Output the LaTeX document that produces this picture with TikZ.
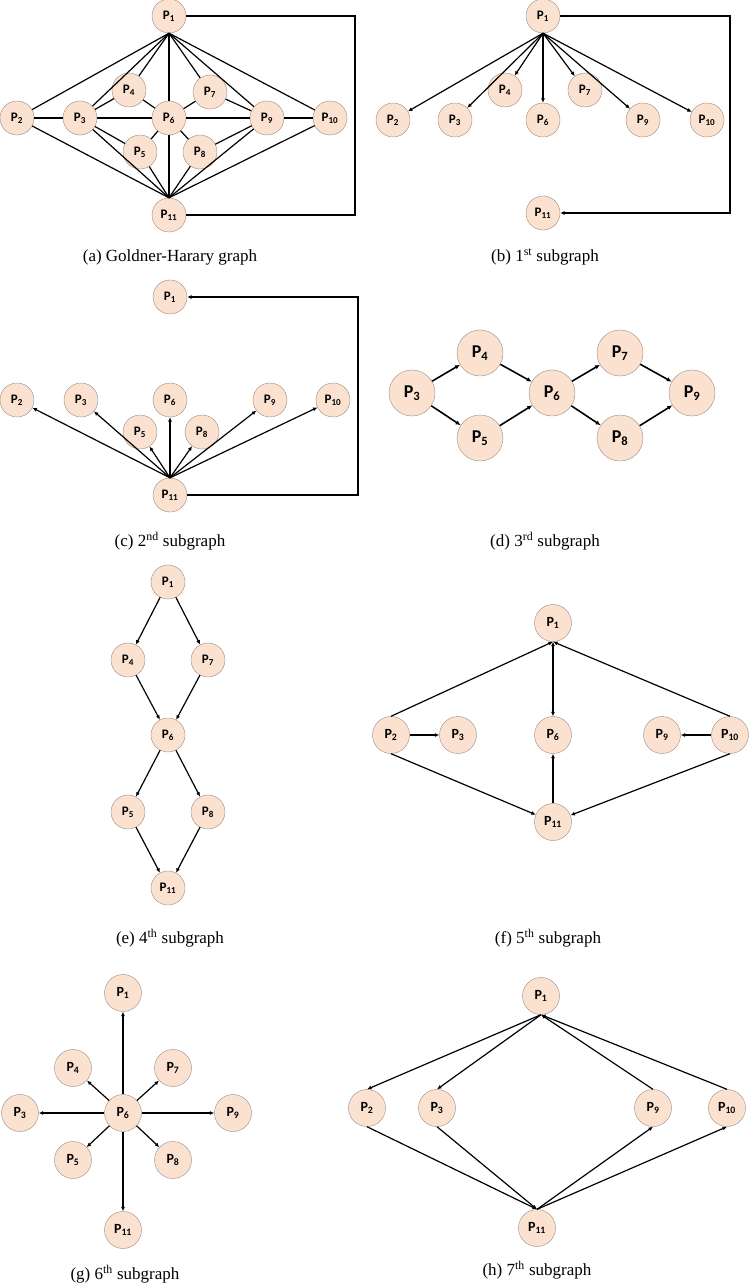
\documentclass[tikz,border=0pt]{standalone}
\usepackage{fontspec}
\setmainfont{Liberation Serif}
\newfontfamily\nodefont{Carlito}
\usetikzlibrary{arrows.meta}
\definecolor{peach}{HTML}{FBE2D0}
\definecolor{rimc}{HTML}{9A8A80}
\tikzset{
 pn/.style={circle,fill=peach,draw=rimc,line width=0.4pt,minimum size=34pt,inner sep=0pt,font=\nodefont\bfseries\fontsize{13}{13}\selectfont},
 pbig/.style={pn,minimum size=46pt,font=\nodefont\bfseries\fontsize{18}{18}\selectfont},
 pmid/.style={pn,minimum size=37pt,font=\nodefont\bfseries\fontsize{14}{14}\selectfont},
 ed/.style={line width=1.2pt},
 ar/.style={ed,-{Latex[length=4.5pt,width=4pt]}},
 arb/.style={line width=1.6pt,-{Latex[length=5pt,width=4.5pt]}},
 captxt/.style={font=\fontsize{17}{17}\selectfont}
}
\begin{document}
\begin{tikzpicture}[x=1pt,y=-1pt]
\useasboundingbox (0,0) rectangle (749,1287);
% (a)
\node[pn] (a1) at (169,16) {P\textsubscript{1}};
\node[pn] (a2) at (17,118) {P\textsubscript{2}};
\node[pn] (a3) at (80,118) {P\textsubscript{3}};
\node[pn] (a4) at (129,90) {P\textsubscript{4}};
\node[pn] (a6) at (169,118) {P\textsubscript{6}};
\node[pn] (a7) at (210,92) {P\textsubscript{7}};
\node[pn] (a5) at (140,152) {P\textsubscript{5}};
\node[pn] (a8) at (200,152) {P\textsubscript{8}};
\node[pn] (a9) at (267,118) {P\textsubscript{9}};
\node[pn] (a10) at (330,118) {P\textsubscript{10}};
\node[pn] (a11) at (169,215) {P\textsubscript{11}};
\coordinate (aa) at (355,16); \coordinate (ab) at (355,215);
\draw[ed] (a1.east) -- (aa) -- (ab) -- (a11.east);
\foreach \n in {2,3,4,6,7,9,10} \draw[ed] (a1.south) -- (a\n);
\foreach \n in {2,3,5,6,8,9,10} \draw[ed] (a11.north) -- (a\n);
\foreach \u/\v in {2/3,3/6,6/9,9/10,3/4,4/6,6/7,7/9,3/5,5/6,6/8,8/9} \draw[ed] (a\u) -- (a\v);
\node[captxt] (ca) at (170,257) {(a) Goldner-Harary graph};
% (b)
\node[pn] (b1) at (543,16) {P\textsubscript{1}};
\node[pn] (b2) at (393,120) {P\textsubscript{2}};
\node[pn] (b3) at (455,120) {P\textsubscript{3}};
\node[pn] (b4) at (505,90) {P\textsubscript{4}};
\node[pn] (b6) at (543,120) {P\textsubscript{6}};
\node[pn] (b7) at (585,90) {P\textsubscript{7}};
\node[pn] (b9) at (643,120) {P\textsubscript{9}};
\node[pn] (b10) at (707,120) {P\textsubscript{10}};
\node[pn] (b11) at (543,213) {P\textsubscript{11}};
\coordinate (ba) at (730,16); \coordinate (bb) at (730,213);
\draw[ar] (b1.east) -- (ba) -- (bb) -- (b11.east);
\foreach \n in {2,3,4,6,7,9,10} \draw[ar] (b1.south) -- (b\n);
\node[captxt] (cb) at (545,257) {(b) 1\textsuperscript{st} subgraph};
% (c)
\node[pn] (c1) at (170,297) {P\textsubscript{1}};
\node[pn] (c2) at (17,400) {P\textsubscript{2}};
\node[pn] (c3) at (81,400) {P\textsubscript{3}};
\node[pn] (c6) at (170,400) {P\textsubscript{6}};
\node[pn] (c5) at (140,432) {P\textsubscript{5}};
\node[pn] (c8) at (202,432) {P\textsubscript{8}};
\node[pn] (c9) at (270,400) {P\textsubscript{9}};
\node[pn] (c10) at (333,400) {P\textsubscript{10}};
\node[pn] (c11) at (170,495) {P\textsubscript{11}};
\coordinate (ca1) at (358,495); \coordinate (cb1) at (358,297);
\draw[ar] (c11.east) -- (ca1) -- (cb1) -- (c1.east);
\foreach \n in {2,3,5,6,8,9,10} \draw[ar] (c11.north) -- (c\n);
\node[captxt] (cc) at (170,541) {(c) 2\textsuperscript{nd} subgraph};
% (d)
\node[pbig] (d3) at (412,393) {P\textsubscript{3}};
\node[pbig] (d4) at (480,353) {P\textsubscript{4}};
\node[pbig] (d5) at (480,438) {P\textsubscript{5}};
\node[pbig] (d6) at (552,393) {P\textsubscript{6}};
\node[pbig] (d7) at (620,353) {P\textsubscript{7}};
\node[pbig] (d8) at (620,438) {P\textsubscript{8}};
\node[pbig] (d9) at (692,393) {P\textsubscript{9}};
\foreach \u/\v in {3/4,3/5,4/6,5/6,6/7,6/8,7/9,8/9} \draw[arb] (d\u) -- (d\v);
\node[captxt] (cd) at (545,541) {(d) 3\textsuperscript{rd} subgraph};
% (e)
\node[pn] (e1) at (168,582) {P\textsubscript{1}};
\node[pn] (e4) at (128,660) {P\textsubscript{4}};
\node[pn] (e7) at (208,660) {P\textsubscript{7}};
\node[pn] (e6) at (168,735) {P\textsubscript{6}};
\node[pn] (e5) at (128,812) {P\textsubscript{5}};
\node[pn] (e8) at (208,812) {P\textsubscript{8}};
\node[pn] (e11) at (168,888) {P\textsubscript{11}};
\foreach \u/\v in {1/4,1/7,4/6,7/6,6/5,6/8,5/11,8/11} \draw[ar] (e\u) -- (e\v);
\node[captxt] (ce) at (170,938) {(e) 4\textsuperscript{th} subgraph};
% (f)
\node[pmid] (f1) at (553,623) {P\textsubscript{1}};
\node[pmid] (f2) at (391,735) {P\textsubscript{2}};
\node[pmid] (f3) at (458,735) {P\textsubscript{3}};
\node[pmid] (f6) at (553,735) {P\textsubscript{6}};
\node[pmid] (f9) at (662,735) {P\textsubscript{9}};
\node[pmid] (f10) at (730,735) {P\textsubscript{10}};
\node[pmid] (f11) at (553,822) {P\textsubscript{11}};
\draw[ar] (f2.north) -- (f1.south);
\draw[ar] (f10.north) -- (f1.south);
\draw[ed,{Latex[length=4.5pt,width=4pt]}-{Latex[length=4.5pt,width=4pt]}] (f1) -- (f6);
\draw[ar] (f2) -- (f3);
\draw[ar] (f10) -- (f9);
\draw[ar] (f11) -- (f6);
\draw[ar] (f2.south) -- (f11);
\draw[ar] (f10.south) -- (f11);
\node[captxt] (cf) at (548,938) {(f) 5\textsuperscript{th} subgraph};
% (g)
\node[pmid] (g1) at (123,993) {P\textsubscript{1}};
\node[pmid] (g4) at (73,1068) {P\textsubscript{4}};
\node[pmid] (g7) at (173,1068) {P\textsubscript{7}};
\node[pmid] (g3) at (20,1113) {P\textsubscript{3}};
\node[pmid] (g6) at (123,1113) {P\textsubscript{6}};
\node[pmid] (g9) at (233,1113) {P\textsubscript{9}};
\node[pmid] (g5) at (73,1160) {P\textsubscript{5}};
\node[pmid] (g8) at (173,1160) {P\textsubscript{8}};
\node[pmid] (g11) at (123,1230) {P\textsubscript{11}};
\foreach \n in {1,4,7,3,9,5,8,11} \draw[ar] (g6) -- (g\n);
\node[captxt] (cg) at (125,1274) {(g) 6\textsuperscript{th} subgraph};
% (h)
\node[pmid] (h1) at (541,996) {P\textsubscript{1}};
\node[pmid] (h2) at (367,1108) {P\textsubscript{2}};
\node[pmid] (h3) at (437,1108) {P\textsubscript{3}};
\node[pmid] (h9) at (653,1108) {P\textsubscript{9}};
\node[pmid] (h10) at (727,1108) {P\textsubscript{10}};
\node[pmid] (h11) at (537,1228) {P\textsubscript{11}};
\draw[ar] (h1.south) -- (h2.north);
\draw[ar] (h1.south) -- (h3.north);
\draw[ar] (h9.north) -- (h1.south);
\draw[ar] (h10.north) -- (h1.south);
\draw[ar] (h2.south) -- (h11.north);
\draw[ar] (h3.south) -- (h11.north);
\draw[ar] (h11.north) -- (h9.south);
\draw[ar] (h11.north) -- (h10.south);
\node[captxt] (ch) at (537,1270) {(h) 7\textsuperscript{th} subgraph};
\end{tikzpicture}
\end{document}
